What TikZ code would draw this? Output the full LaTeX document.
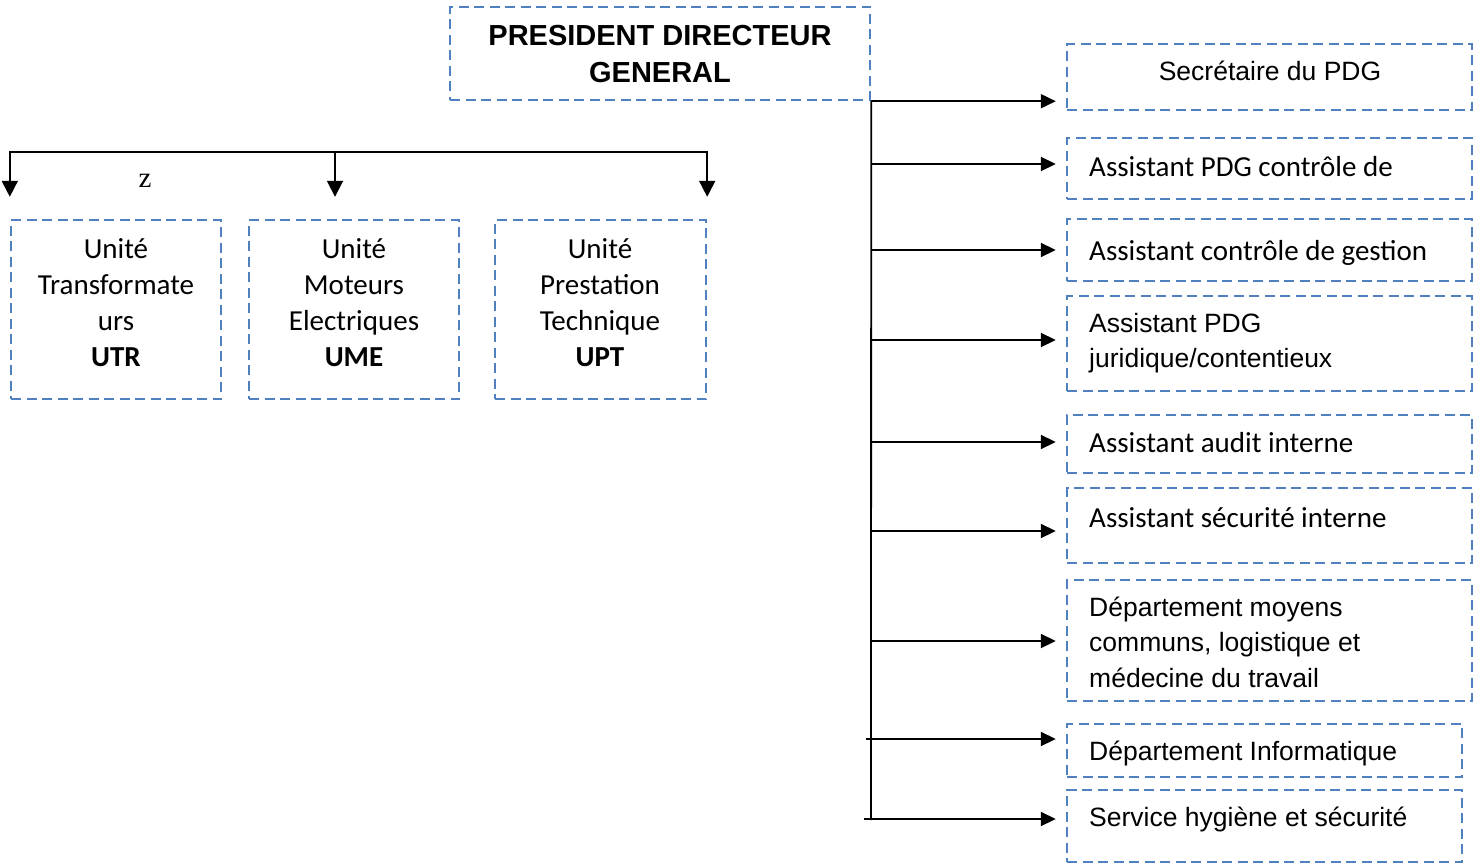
\documentclass[tikz,border=0pt]{standalone}
\usepackage{fontspec}
\setmainfont{Liberation Sans}
\newfontfamily\calib{Carlito}
\newfontfamily\serifz{Liberation Serif}
\usetikzlibrary{arrows.meta,calc,fit}
\definecolor{dashblue}{RGB}{79,129,193}
\begin{document}
\begin{tikzpicture}[x=1pt,y=-1pt,
  box/.style={draw=dashblue, line width=2.4pt, dash pattern=on 10pt off 5.5pt, inner sep=0pt},
  conn/.style={line width=1.8pt, -{Triangle[length=16pt,width=16pt]}},
  rconn/.style={line width=1.8pt, -{Triangle[length=15pt,width=14pt]}, shorten >=10pt},
  plain/.style={line width=1.8pt},
  arialtxt/.style={font=\fontsize{26.5}{35.5}\selectfont, inner sep=0pt, align=left, anchor=west},
  calitxt/.style={font=\calib\fontsize{29}{36}\selectfont, inner sep=0pt, align=left, anchor=west},
  unittxt/.style={font=\calib\fontsize{29}{36}\selectfont, inner sep=0pt, align=center},
]
\useasboundingbox (0,0) rectangle (1474,864);

% boxes
\node[box, fit={(450,7) (870,100)}] (pdg) {};
\node[box, fit={(11,220) (221,399)}] (utr) {};
\node[box, fit={(249,220) (459,399)}] (ume) {};
\node[box, fit={(495,220) (706,399)}] (upt) {};
\node[box, fit={(1067,44) (1472,110)}] (r1) {};
\node[box, fit={(1067,138) (1472,199)}] (r2) {};
\node[box, fit={(1067,219) (1472,281)}] (r3) {};
\node[box, fit={(1067,296) (1472,391)}] (r4) {};
\node[box, fit={(1067,415) (1472,473)}] (r5) {};
\node[box, fit={(1067,488) (1472,563)}] (r6) {};
\node[box, fit={(1067,580) (1472,701)}] (r7) {};
\node[box, fit={(1067,724) (1462,777)}] (r8) {};
\node[box, fit={(1067,790) (1462,862)}] (r9) {};

% texts
\node[font=\bfseries\fontsize{29}{37}\selectfont, align=center, inner sep=0pt] (pdgt) at (660,54) {PRESIDENT DIRECTEUR\\GENERAL};
\node[unittxt] (utrt) at (116,303) {Unité\\Transformate\\urs\\\textbf{UTR}};
\node[unittxt] (umet) at (354,303) {Unité\\Moteurs\\Electriques\\\textbf{UME}};
\node[unittxt] (uptt) at (600,303) {Unité\\Prestation\\Technique\\\textbf{UPT}};
\node[font=\serifz\fontsize{29}{29}\selectfont, inner sep=0pt] (z) at (145,181) {z};

\node[font=\fontsize{26.5}{35.5}\selectfont, inner sep=0pt] (r1t) at (1270,71) {Secrétaire du PDG};
\node[calitxt] (r2t) at (1089,167) {Assistant PDG contrôle de};
\node[calitxt] (r3t) at (1089,253) {Assistant contrôle de gestion};
\node[arialtxt] (r4t) at (1089,343) {Assistant PDG\\juridique/contentieux};
\node[calitxt] (r5t) at (1089,443) {Assistant audit interne};
\node[calitxt] (r6t) at (1089,518) {Assistant sécurité interne};
\node[arialtxt] (r7t) at (1089,642) {Département moyens\\communs, logistique et\\médecine du travail};
\node[arialtxt] (r8t) at (1089,753.5) {Département Informatique};
\node[arialtxt] (r9t) at (1089,819.5) {Service hygiène et sécurité};

% right connectors
\coordinate (vend) at (871,820);
\coordinate (a2) at (871,164);
\coordinate (a3) at (871,250);
\coordinate (a4) at (871,340);
\coordinate (a5) at (871,442);
\coordinate (a6) at (871,531);
\coordinate (a7) at (871,641);
\coordinate (a8) at (866,739);
\coordinate (a9) at (864,819);
\draw[plain] (pdg.south east) -- (vend);
\draw[rconn] (pdg.south east) -- (pdg.south east -| r1.west);
\draw[rconn] (a2) -- (a2 -| r2.west);
\draw[rconn] (a3) -- (a3 -| r3.west);
\draw[rconn] (a4) -- (a4 -| r4.west);
\draw[rconn] (a5) -- (a5 -| r5.west);
\draw[rconn] (a6) -- (a6 -| r6.west);
\draw[rconn] (a7) -- (a7 -| r7.west);
\draw[rconn] (a8) -- (a8 -| r8.west);
\draw[rconn] (a9) -- (a9 -| r9.west);

% left connectors
\coordinate (hM) at (335,152);
\coordinate (tipL) at ($(utr.north west)+(0,-22)$);
\coordinate (tipM) at ($(hM |- ume.north)+(0,-22)$);
\coordinate (tipR) at ($(upt.north east)+(0,-22)$);
\draw[conn] (hM) -| (tipL);
\draw[conn] (hM) -| (tipR);
\draw[conn] (hM) -- (tipM);
\end{tikzpicture}
\end{document}
